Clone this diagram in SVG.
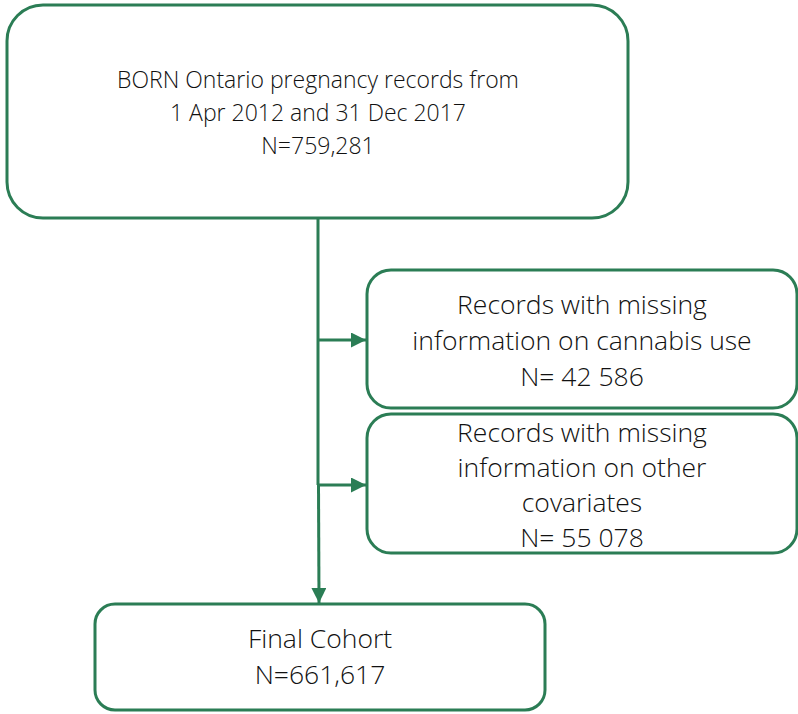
<svg xmlns="http://www.w3.org/2000/svg" width="798" height="714" viewBox="0 0 798 714">
  <style>
    .box { fill: #ffffff; stroke: #2b7d55; stroke-width: 3; }
    .link { stroke: #2b7d55; stroke-width: 3; fill: none; }
    .t { font-family: "Open Sans", "Liberation Sans", sans-serif; font-weight: 300; fill: #111111; text-anchor: middle; }
    .s22 { font-size: 23px; }
    .s26 { font-size: 26.5px; }
  </style>
  <defs>
    <marker id="arrow" viewBox="0 0 10 10" refX="10" refY="5" markerWidth="5" markerHeight="5" markerUnits="strokeWidth" orient="auto">
      <path d="M0,0 L10,5 L0,10 Z" fill="#2b7d55"/>
    </marker>
  </defs>
  <rect width="798" height="714" fill="#ffffff"/>

  <g id="connectors">
    <line class="link" x1="318" y1="218" x2="318" y2="485"/>
    <line class="link" x1="318.5" y1="485" x2="319" y2="603" marker-end="url(#arrow)"/>
    <line class="link" x1="318" y1="340" x2="366" y2="340" marker-end="url(#arrow)"/>
    <line class="link" x1="318" y1="485" x2="366" y2="485" marker-end="url(#arrow)"/>
  </g>

  <g id="source">
    <rect class="box" x="7" y="5" width="621" height="213" rx="36" ry="36"/>
    <text class="t s22" x="318" y="88">BORN Ontario pregnancy records from</text>
    <text class="t s22" x="318" y="121">1 Apr 2012 and 31 Dec 2017</text>
    <text class="t s22" x="318" y="154">N=759,281</text>
  </g>

  <g id="excluded-cannabis">
    <rect class="box" x="367" y="270" width="430" height="138" rx="24" ry="24"/>
    <text class="t s26" x="582" y="314">Records with missing</text>
    <text class="t s26" x="582" y="350">information on cannabis use</text>
    <text class="t s26" x="582" y="386">N= 42 586</text>
  </g>

  <g id="excluded-covariates">
    <rect class="box" x="367" y="414" width="430" height="139" rx="24" ry="24"/>
    <text class="t s26" x="582" y="442">Records with missing</text>
    <text class="t s26" x="582" y="477">information on other</text>
    <text class="t s26" x="582" y="512">covariates</text>
    <text class="t s26" x="582" y="547">N= 55 078</text>
  </g>

  <g id="final-cohort">
    <rect class="box" x="95" y="604" width="450" height="106" rx="20" ry="20"/>
    <text class="t s26" x="320" y="648">Final Cohort</text>
    <text class="t s26" x="320" y="684">N=661,617</text>
  </g>
</svg>
